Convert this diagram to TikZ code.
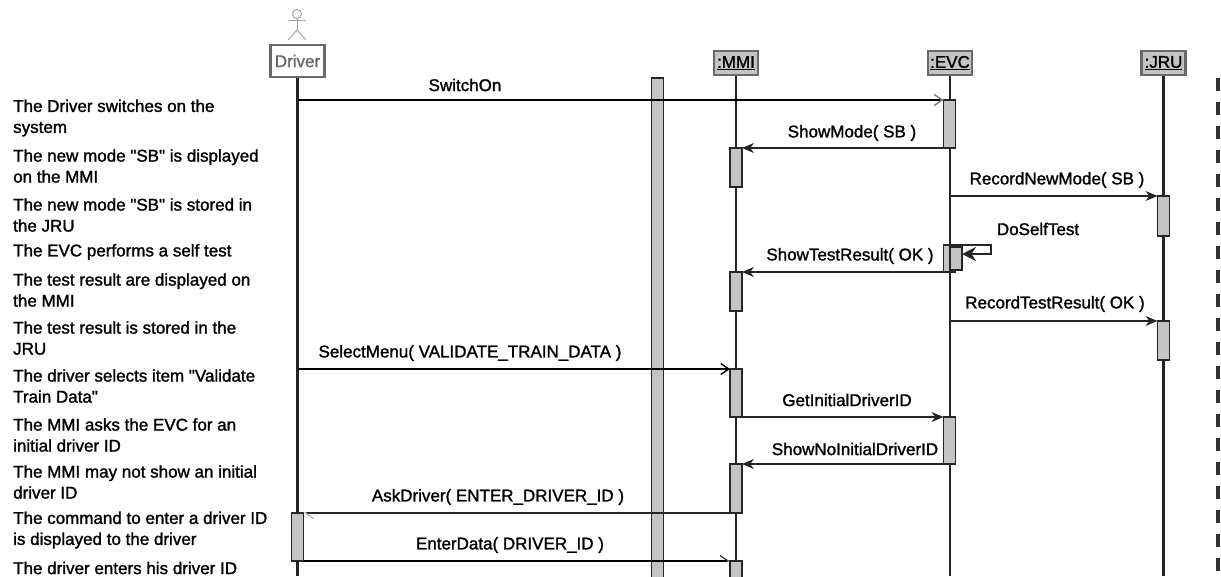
\documentclass[tikz,border=0pt]{standalone}
\usepackage{fontspec}
\setmainfont[RawFeature={embolden=1.4}]{Liberation Sans}
\usetikzlibrary{arrows.meta,positioning}
\definecolor{barfill}{HTML}{C4C4C4}
\definecolor{headline}{HTML}{6A6A6A}
\tikzset{
  head/.style={draw=headline, line width=2.6pt, fill=barfill, minimum width=44pt, minimum height=24pt, inner sep=0pt, font=\fontsize{17}{20}\selectfont},
  bar/.style={draw=black!85, line width=1.6pt, fill=barfill, minimum width=12pt, inner sep=0pt, outer sep=0pt},
  life/.style={draw=black!85, line width=2.2pt},
  msg/.style={draw=black!85, line width=1.6pt},
  msglabel/.style={inner sep=0pt, font=\fontsize{17}{20}\selectfont},
  note/.style={anchor=west, align=left, inner sep=0pt, font=\fontsize{17}{21}\selectfont},
  filltip/.style={-{Stealth[length=12pt,width=10pt]}},
  looptip/.style={-{Stealth[length=14pt,width=14pt]}},
  opentip/.style={-{Straight Barb[length=8pt,width=11pt,line width=1.4pt,color=#1]}},
  halftip/.style={-{Straight Barb[left,length=8pt,width=11pt,line width=1.2pt,color=#1]}},
}
\begin{document}
\begin{tikzpicture}[x=1pt, y=-1pt]
    \clip (0,0) rectangle (1221,576);
    \fill[white] (0,0) rectangle (1221,576);
    \coordinate (bottom) at (0,576);

    % lifeline heads
    \node (driver) [head, fill=white, text=headline, minimum width=54pt, minimum height=32pt] at (297.5,61) {Driver};
    \node (mmi) [head, right of=driver, node distance=438.5pt, yshift=-2pt] {\underline{:MMI}};
    \node (evc) [head, right of=mmi, node distance=214pt] {\underline{:EVC}};
    \node (jru) [head, right of=evc, node distance=213.5pt] {\underline{:JRU}};

    % actor
    \node (actorhead) [draw=gray!70, line width=1pt, circle, minimum size=9pt, inner sep=0pt] at (297,14) {};
    \coordinate (actorhip) at (297,30);
    \draw[gray!70, line width=1pt] (actorhead) -- (actorhip);
    \draw[gray!70, line width=1pt] (288,20.5) -- (306,20.5);
    \draw[gray!70, line width=1pt] (288,40) -- (actorhip) -- (306,40);

    % lifelines
    \draw[life] (driver.south) -- (driver.south |- bottom);
    \draw[life] (mmi.south) -- (mmi.south |- bottom);
    \draw[life] (evc.south) -- (evc.south |- bottom);
    \draw[life] (jru.south) -- (jru.south |- bottom);
    \node (sepbar) [bar, minimum height=520pt] at (657.5,338) {};
    \coordinate (dashtop) at (1218,78);
    \draw[black!80, line width=4pt, dash pattern=on 13pt off 11pt] (dashtop) -- (dashtop |- bottom);

    % activations
    \node (evcA) [bar, minimum height=48pt] at (949.5,124) {};
    \node (mmiA) [bar, minimum height=39pt] at (736,167.5) {};
    \node (jruA) [bar, minimum height=40pt] at (1163.5,216) {};
    \node (evcB) [bar, minimum height=27pt] at (949.5,258.5) {};
    \node (evcC) [bar, minimum height=23pt] at (956,258.5) {};
    \node (mmiB) [bar, minimum height=39pt] at (736,291.5) {};
    \node (jruB) [bar, minimum height=39pt] at (1163.5,340.5) {};
    \node (mmiC) [bar, minimum height=48pt] at (736,393) {};
    \node (evcD) [bar, minimum height=47pt] at (949.5,440.5) {};
    \node (mmiD) [bar, minimum height=49pt] at (736,488.5) {};
    \node (driverA) [bar, minimum height=48pt] at (297.5,537) {};
    \node (mmiE) [bar, minimum height=40pt] at (736,581) {};

    % messages
    \coordinate (switchstart) at (297.5,100);
    \coordinate (newmodestart) at (950,196);
    \coordinate (testresstart) at (950,321);
    \coordinate (selectstart) at (297.5,369);
    \coordinate (loopa) at (991,245);
    \coordinate (loopb) at (991,254);
    \draw[msg, black, opentip=gray] (switchstart) -- (evcA.north west);
    \draw[msg, filltip] (evcA.south west) -- (mmiA.north east);
    \draw[msg, filltip] (newmodestart) -- (jruA.north west);
    \draw[msg, line width=2.2pt, looptip] (evcB.north east) -- (loopa) -- (loopb) -- (evcC.east |- loopb);
    \draw[msg, filltip] (evcB.south west) -- (mmiB.north east);
    \draw[msg, line width=1.2pt, filltip] (testresstart) -- (jruB.north west);
    \draw[msg, black, opentip=black] (selectstart) -- (mmiC.north west);
    \draw[msg, filltip] (mmiC.south east) -- (evcD.north west);
    \draw[msg, filltip] (evcD.south west) -- (mmiD.north east);
    \draw[msg, halftip=gray!60] (mmiD.south west) -- (driverA.north east);
    \draw[msg, black, halftip=black!80] (driverA.south east) -- (mmiE.north west);

    % message labels
    \node (lswitch) [msglabel] at (465,85) {SwitchOn};
    \node (lshowmode) [msglabel] at (852,133) {ShowMode( SB )};
    \node (lnewmode) [msglabel] at (1057,180) {RecordNewMode( SB )};
    \node (lselftest) [msglabel] at (1038,229) {DoSelfTest};
    \node (lshowtest) [msglabel] at (850,256) {ShowTestResult( OK )};
    \node (lrectest) [msglabel] at (1055,304) {RecordTestResult( OK )};
    \node (lselect) [msglabel] at (470,353) {SelectMenu( VALIDATE\_TRAIN\_DATA )};
    \node (lgetid) [msglabel] at (847,400) {GetInitialDriverID};
    \node (lnoid) [msglabel] at (855,449) {ShowNoInitialDriverID};
    \node (lask) [msglabel] at (498,497) {AskDriver( ENTER\_DRIVER\_ID )};
    \node (lenter) [msglabel] at (510,545) {EnterData( DRIVER\_ID )};

    % left column
    \node (noteA) [note] at (13,118) {The Driver switches on the\\system};
    \node (noteB) [note] at (13,166) {The new mode \textquotedbl SB\textquotedbl{} is displayed\\on the MMI};
    \node (noteC) [note] at (13,215) {The new mode \textquotedbl SB\textquotedbl{} is stored in\\the JRU};
    \node (noteD) [note] at (13,252) {The EVC performs a self test};
    \node (noteE) [note] at (13,290) {The test result are displayed on\\the MMI};
    \node (noteF) [note] at (13,338) {The test result is stored in the\\JRU};
    \node (noteG) [note] at (13,386) {The driver selects item \textquotedbl Validate\\Train Data\textquotedbl};
    \node (noteH) [note] at (13,435) {The MMI asks the EVC for an\\initial driver ID};
    \node (noteI) [note] at (13,482) {The MMI may not show an initial\\driver ID};
    \node (noteJ) [note] at (13,530) {The command to enter a driver ID\\is displayed to the driver};
    \node (noteK) [note] at (13,568) {The driver enters his driver ID};
  \end{tikzpicture}
\end{document}
